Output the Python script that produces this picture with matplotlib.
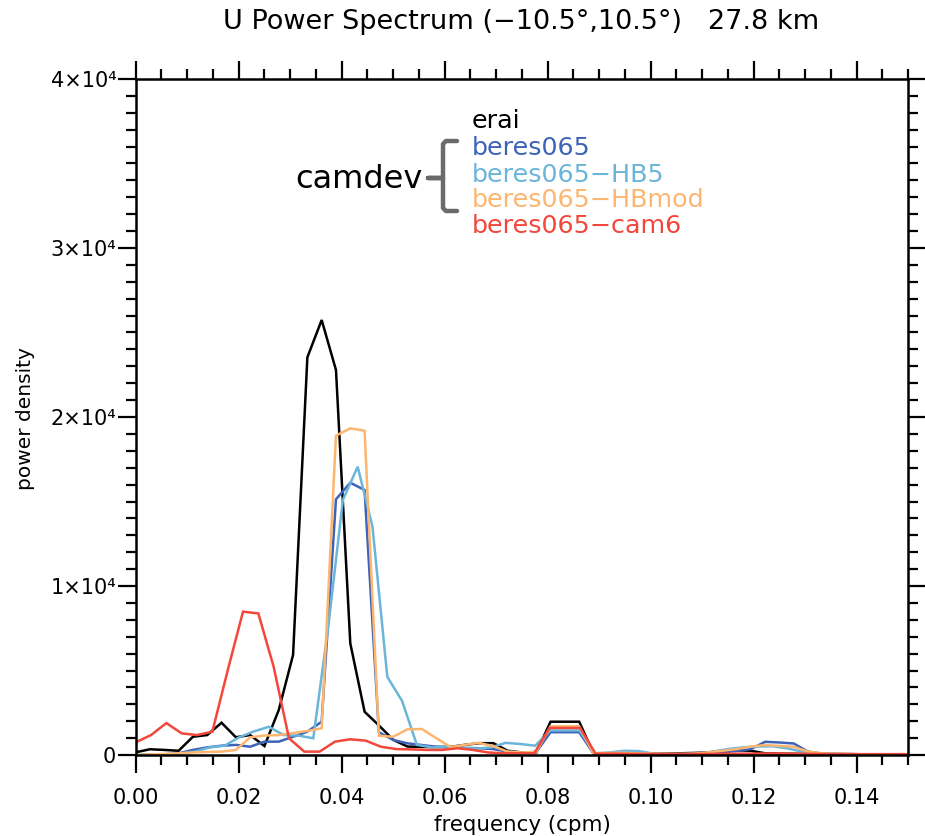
import numpy as np
import matplotlib
matplotlib.use("Agg")
import matplotlib.pyplot as plt
from matplotlib.ticker import MultipleLocator, FixedLocator, FixedFormatter
from matplotlib.lines import Line2D

plt.rcParams['font.family'] = ['DejaVu Sans']

W, H = 925, 836

# record lengths -> spectral bin spacing 1/N (cpm)
N_erai = 360
N_hb5 = 348
N_cam6 = 336

erai = [160, 340, 300, 250, 1080, 1180, 1910, 1050, 1180, 530,
        2660, 5920, 23530, 25740, 22780, 6610, 2560, 1750, 900, 500,
        480, 470, 480, 600, 700, 700, 250, 150, 150, 1970,
        1970, 1970, 100, 100, 90, 80, 80, 90, 100, 120,
        150, 250, 280, 250, 100, 80, 70, 60, 50, 50,
        50, 40, 40, 30, 30]

beres065 = [0, 20, 40, 100, 300, 450, 550, 600, 490, 790,
            790, 1080, 1380, 1970, 15130, 16110, 15680, 1350, 890, 690,
            590, 490, 450, 420, 400, 350, 200, 150, 180, 1350,
            1350, 1350, 100, 80, 70, 60, 60, 60, 60, 80,
            100, 150, 250, 350, 780, 740, 680, 200, 80, 60,
            50, 40, 40, 30, 30]

hb5 = [0, 20, 40, 80, 200, 450, 550, 1050, 1400, 1670,
       1180, 1150, 990, 7500, 15090, 17060, 13510, 4630, 3200, 600,
       450, 500, 420, 380, 450, 720, 650, 550, 1450, 1450,
       1450, 100, 150, 250, 230, 80, 60, 50, 60, 200,
       350, 450, 500, 520, 400, 200, 80, 40, 20, 0,
       0, 0, 0, 0]

hbmod = [0, 30, 60, 100, 150, 180, 200, 300, 1050, 1150,
         1180, 1300, 1420, 1580, 18900, 19330, 19190, 1140, 1080, 1520,
         1540, 1000, 470, 600, 720, 520, 200, 150, 180, 1700,
         1700, 1700, 100, 120, 130, 100, 80, 70, 60, 80,
         150, 250, 350, 500, 590, 540, 490, 200, 100, 60,
         50, 40, 30, 30, 20]

cam6 = [750, 1180, 1890, 1280, 1180, 1380, 5000, 8480, 8380, 5220,
        990, 200, 200, 790, 930, 850, 490, 350, 330, 300,
        300, 400, 300, 150, 100, 100, 100, 1600, 1600, 1600,
        80, 80, 70, 60, 60, 60, 60, 60, 70, 80,
        80, 90, 90, 80, 70, 60, 60, 50, 50, 50,
        50, 50]

names = ['erai', 'beres065', 'beres065\u2212HB5', 'beres065\u2212HBmod', 'beres065\u2212cam6']
colors = ['#000000', '#3d63b8', '#6bb5da', '#fdb66f', '#f2473a']
series = [erai, beres065, hb5, hbmod, cam6]
lengths = [N_erai, N_erai, N_hb5, N_erai, N_cam6]

fig = plt.figure(figsize=(W / 100, H / 100), dpi=100)
x0, x1 = 135.7, 908.2
y0, y1 = 755.0, 79.0
ax = fig.add_axes([x0 / W, 1 - y0 / H, (x1 - x0) / W, (y0 - y1) / H])

for vals, c, n in zip(series, colors, lengths):
    f = np.arange(len(vals)) / n
    ax.plot(f, vals, color=c, lw=1.8, solid_joinstyle='miter')

ax.set_xlim(0, 0.15)
ax.set_ylim(0, 40000)

ax.xaxis.set_major_locator(FixedLocator(np.arange(0, 0.141, 0.02)))
ax.xaxis.set_major_formatter(FixedFormatter(['%.2f' % v for v in np.arange(0, 0.141, 0.02)]))
ax.xaxis.set_minor_locator(MultipleLocator(0.005))
ax.yaxis.set_major_locator(FixedLocator([0, 10000, 20000, 30000, 40000]))
ax.yaxis.set_major_formatter(FixedFormatter(['0', '1\u00d710\u2074', '2\u00d710\u2074',
                                             '3\u00d710\u2074', '4\u00d710\u2074']))
ax.yaxis.set_minor_locator(MultipleLocator(1000))

ax.tick_params(which='both', direction='out', top=True, right=True, width=1.6, colors='black')
ax.tick_params(which='major', length=13)
ax.tick_params(which='minor', length=7.5)
ax.tick_params(axis='x', which='major', labelsize=15, pad=11)
ax.tick_params(axis='y', which='major', labelsize=15, pad=1)
for s in ax.spines.values():
    s.set_linewidth(1.8)

ax.set_xlabel('frequency (cpm)', fontsize=15.4, va='top')
ax.xaxis.set_label_coords(0.5, -0.089)
ax.set_ylabel('power density', fontsize=14.5, va='center')
ax.yaxis.set_label_coords(-0.1433, 0.497)

fig.text(521 / W, 1 - 22 / H, 'U Power Spectrum (\u221210.5\u00b0,10.5\u00b0)   27.8 km',
         ha='center', va='center', fontsize=19.5)

# legend entries in series colours
leg_y = [128, 155, 181.5, 207, 233]
for name, c, yy in zip(names, colors, leg_y):
    fig.text(472 / W, 1 - yy / H, name, color=c, fontsize=18.3,
             ha='left', va='baseline')

fig.text(295 / W, 1 - 188 / H, 'camdev', color='black', fontsize=23,
         ha='left', va='baseline')

# bracket grouping the camdev runs
bx = [457, 446, 443, 443, 428, 443, 443, 446, 457]
by = [141, 141, 144, 178, 178, 178, 208, 211, 211]
fig.add_artist(Line2D([v / W for v in bx], [1 - v / H for v in by],
                      transform=fig.transFigure, color='#6a6a6a', lw=3.2,
                      solid_joinstyle='round', solid_capstyle='round'))

fig.savefig('out.png', dpi=100)
